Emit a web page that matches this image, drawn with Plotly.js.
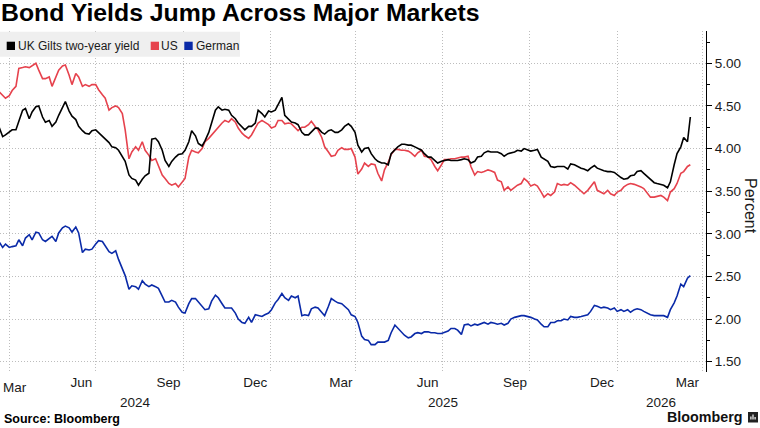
<!DOCTYPE html>
<html>
<head>
<meta charset="utf-8">
<script src="https://cdn.plot.ly/plotly-3.0.1.min.js"></script>
<style>
  html, body { margin: 0; padding: 0; background: #ffffff; }
  #chart { width: 760px; height: 428px; }
</style>
</head>
<body>
<div id="chart"></div>
<script>
// Observation dates (twice weekly, Mon/Thu)
const dates = [
  '2024-03-21','2024-03-25','2024-03-28',
  '2024-04-01','2024-04-04','2024-04-08','2024-04-11','2024-04-15','2024-04-18','2024-04-22','2024-04-25','2024-04-29',
  '2024-05-02','2024-05-06','2024-05-09','2024-05-13','2024-05-16','2024-05-20','2024-05-23','2024-05-27','2024-05-30',
  '2024-06-03','2024-06-06','2024-06-10','2024-06-13','2024-06-17','2024-06-20','2024-06-24','2024-06-27',
  '2024-07-01','2024-07-04','2024-07-08','2024-07-11','2024-07-15','2024-07-18','2024-07-22','2024-07-25','2024-07-29',
  '2024-08-01','2024-08-05','2024-08-08','2024-08-12','2024-08-15','2024-08-19','2024-08-22','2024-08-26','2024-08-29',
  '2024-09-02','2024-09-05','2024-09-09','2024-09-12','2024-09-16','2024-09-19','2024-09-23','2024-09-26','2024-09-30',
  '2024-10-03','2024-10-07','2024-10-10','2024-10-14','2024-10-17','2024-10-21','2024-10-24','2024-10-28','2024-10-31',
  '2024-11-04','2024-11-07','2024-11-11','2024-11-14','2024-11-18','2024-11-21','2024-11-25','2024-11-28',
  '2024-12-02','2024-12-05','2024-12-09','2024-12-12','2024-12-16','2024-12-19','2024-12-23','2024-12-26','2024-12-30',
  '2025-01-02','2025-01-06','2025-01-09','2025-01-13','2025-01-16','2025-01-20','2025-01-23','2025-01-27','2025-01-30',
  '2025-02-03','2025-02-06','2025-02-10','2025-02-13','2025-02-17','2025-02-20','2025-02-24','2025-02-27',
  '2025-03-03','2025-03-06','2025-03-10','2025-03-13','2025-03-17','2025-03-20','2025-03-24','2025-03-27','2025-03-31',
  '2025-04-03','2025-04-07','2025-04-10','2025-04-14','2025-04-17','2025-04-21','2025-04-24','2025-04-28',
  '2025-05-01','2025-05-05','2025-05-08','2025-05-12','2025-05-15','2025-05-19','2025-05-22','2025-05-26','2025-05-29',
  '2025-06-02','2025-06-05','2025-06-09','2025-06-12','2025-06-16','2025-06-19','2025-06-23','2025-06-26','2025-06-30',
  '2025-07-03','2025-07-07','2025-07-10','2025-07-14','2025-07-17','2025-07-21','2025-07-24','2025-07-28','2025-07-31',
  '2025-08-04','2025-08-07','2025-08-11','2025-08-14','2025-08-18','2025-08-21','2025-08-25','2025-08-28',
  '2025-09-01','2025-09-04','2025-09-08','2025-09-11','2025-09-15','2025-09-18','2025-09-22','2025-09-25','2025-09-29',
  '2025-10-02','2025-10-06','2025-10-09','2025-10-13','2025-10-16','2025-10-20','2025-10-23','2025-10-27','2025-10-30',
  '2025-11-03','2025-11-06','2025-11-10','2025-11-13','2025-11-17','2025-11-20','2025-11-24','2025-11-27',
  '2025-12-01','2025-12-04','2025-12-08','2025-12-11','2025-12-15','2025-12-18','2025-12-22','2025-12-25','2025-12-29',
  '2026-01-01','2026-01-05','2026-01-08','2026-01-12','2026-01-15','2026-01-19','2026-01-22','2026-01-26','2026-01-29',
  '2026-02-02','2026-02-05','2026-02-09','2026-02-12','2026-02-16','2026-02-19','2026-02-23','2026-02-26',
  '2026-03-02','2026-03-05','2026-03-09','2026-03-12','2026-03-16','2026-03-19'
];

// UK gilts two-year yield, %
const ukGilts = [
  4.26,4.14,4.16,4.20,4.22,4.22,4.31,4.45,4.47,4.35,
  4.43,4.49,4.50,4.37,4.31,4.33,4.26,4.31,4.39,4.48,
  4.55,4.44,4.38,4.34,4.26,4.21,4.18,4.17,4.21,4.22,
  4.19,4.15,4.12,4.07,4.02,4.01,3.98,3.91,3.85,3.69,
  3.65,3.63,3.57,3.64,3.68,3.71,4.11,4.12,4.08,3.98,
  3.86,3.79,3.85,3.90,3.93,3.94,3.98,4.08,4.21,4.15,
  4.06,4.03,4.09,4.19,4.31,4.45,4.49,4.45,4.46,4.45,
  4.39,4.35,4.30,4.25,4.22,
  4.26,4.26,4.30,4.45,4.41,4.37,4.44,4.43,4.45,4.52,
  4.60,4.39,4.35,4.31,4.30,4.28,4.19,4.16,4.16,4.20,
  4.24,4.24,4.19,4.17,4.21,4.22,4.19,4.19,4.22,4.26,
  4.29,4.26,4.19,4.04,3.96,4.00,4.01,3.94,3.88,3.85,
  3.83,3.83,3.81,3.94,3.99,4.02,4.05,4.05,4.04,4.04,
  4.02,4.00,3.98,3.94,3.90,3.90,3.86,3.83,3.85,3.86,
  3.87,3.86,3.86,3.86,3.87,3.88,3.87,3.83,3.85,3.90,
  3.91,3.95,3.97,3.96,3.96,
  3.96,3.94,3.91,3.94,3.95,3.96,3.98,3.97,4.00,3.98,
  3.97,3.98,3.99,3.90,3.88,3.85,3.79,3.78,3.79,3.79,
  3.79,3.76,3.82,3.81,3.79,3.77,3.76,3.74,3.77,3.80,
  3.77,3.75,3.74,3.73,3.73,3.72,3.69,3.66,3.64,3.65,
  3.68,3.69,3.73,3.74,3.71,3.67,3.63,3.60,3.59,3.58,
  3.57,3.54,3.61,3.81,3.94,4.02,4.13,4.08,4.37
];

// US two-year yield, %
const usYield = [
  4.67,4.63,4.59,4.62,4.68,4.73,4.94,4.95,4.96,4.95,
  4.97,5.00,4.92,4.82,4.82,4.84,4.73,4.84,4.92,4.97,
  4.98,4.86,4.75,4.88,4.84,4.73,4.75,4.73,4.75,4.75,
  4.69,4.63,4.59,4.45,4.48,4.50,4.48,4.41,4.22,3.88,
  3.96,4.02,3.98,4.08,3.98,3.92,3.86,3.88,3.79,3.69,
  3.65,3.59,3.57,3.59,3.55,3.61,3.65,3.90,3.98,3.96,
  3.95,4.00,4.08,4.12,4.16,4.20,4.24,4.30,4.33,4.31,
  4.35,4.31,4.24,4.18,4.15,
  4.12,4.16,4.24,4.30,4.33,4.31,4.28,4.24,4.26,4.33,
  4.33,4.29,4.30,4.29,4.24,4.21,4.25,4.25,4.28,4.32,
  4.26,4.22,4.13,4.02,3.96,3.91,3.92,3.98,4.01,3.99,
  3.99,4.00,3.90,3.70,3.76,3.83,3.79,3.82,3.81,3.71,
  3.62,3.75,3.84,3.93,3.99,3.99,3.98,3.98,3.97,3.95,
  3.91,3.95,3.98,3.91,3.90,3.87,3.79,3.74,3.81,3.87,
  3.87,3.88,3.88,3.89,3.90,3.90,3.91,3.79,3.69,3.73,
  3.72,3.73,3.75,3.74,3.72,
  3.63,3.61,3.51,3.55,3.51,3.55,3.57,3.59,3.65,3.61,
  3.56,3.58,3.56,3.49,3.43,3.47,3.45,3.49,3.59,3.57,
  3.58,3.57,3.60,3.57,3.54,3.49,3.47,3.51,3.55,3.61,
  3.51,3.49,3.47,3.51,3.47,3.45,3.49,3.51,3.55,3.58,
  3.59,3.58,3.57,3.55,3.53,3.47,3.43,3.43,3.44,3.45,
  3.43,3.39,3.49,3.53,3.59,3.71,3.73,3.79,3.81
];

// German two-year yield, %
const germanYield = [
  2.91,2.84,2.88,2.84,2.85,2.86,2.93,2.86,2.95,2.99,
  2.93,3.02,3.01,2.93,2.91,2.95,2.97,2.91,3.01,3.07,
  3.09,3.07,3.02,3.08,3.01,2.78,2.82,2.81,2.82,2.88,
  2.92,2.91,2.86,2.79,2.77,2.80,2.70,2.60,2.51,2.35,
  2.39,2.38,2.35,2.45,2.41,2.38,2.40,2.38,2.36,2.27,
  2.20,2.20,2.22,2.20,2.14,2.08,2.07,2.18,2.24,2.24,
  2.20,2.15,2.11,2.12,2.21,2.28,2.25,2.18,2.13,2.13,
  2.13,2.07,2.00,1.96,1.95,
  2.02,1.96,2.05,2.04,2.03,2.05,2.07,2.11,2.19,2.23,
  2.30,2.25,2.22,2.27,2.25,2.27,2.04,2.05,2.04,2.12,
  2.14,2.13,2.08,2.04,2.15,2.24,2.21,2.19,2.18,2.15,
  2.11,2.05,2.03,1.96,1.80,1.76,1.75,1.70,1.70,1.73,
  1.73,1.73,1.75,1.84,1.93,1.89,1.85,1.81,1.78,1.79,
  1.83,1.84,1.83,1.85,1.85,1.84,1.84,1.83,1.83,1.84,
  1.86,1.89,1.89,1.87,1.82,1.93,1.94,1.92,1.94,1.93,
  1.95,1.96,1.94,1.96,1.95,
  1.94,1.95,1.93,1.95,2.00,2.02,2.03,2.04,2.04,2.03,
  2.02,2.00,1.99,1.94,1.91,1.91,1.96,1.96,1.98,1.98,
  2.00,1.99,2.03,2.02,2.02,2.03,2.04,2.05,2.09,2.16,
  2.15,2.13,2.14,2.13,2.11,2.13,2.09,2.11,2.09,2.11,
  2.08,2.11,2.12,2.11,2.09,2.07,2.05,2.04,2.04,2.04,
  2.04,2.02,2.11,2.19,2.27,2.41,2.38,2.48,2.51
];

// Axis labelling
const monthTickDates = ['2024-06-16','2024-09-15 12:00','2024-12-16','2025-03-16','2025-06-15 12:00','2025-09-15 12:00','2025-12-16','2026-03-16'];
const monthTickText  = ['Jun','Sep','Dec','Mar','Jun','Sep','Dec','Mar'];
const firstMonthLabel = 'Mar';
const quarterGridDates = ['2024-04-01','2024-07-01','2024-10-01','2025-01-01','2025-04-01','2025-07-01','2025-10-01','2026-01-01','2026-04-01'];
const yearLabelDates = ['2024-08-12','2025-07-02','2026-02-16'];
const yearLabels = ['2024','2025','2026'];
const xRange = ['2024-03-22 05:00','2026-04-04 12:00'];

const seriesNames = ['UK Gilts two-year yield','US','German'];
const seriesColors = ['#000000','#e6424d','#0a2aa8'];

// Plot-area geometry in page pixels, used to place the decorations
const W = 760, H = 428;
const P = { left: 0, right: 706, top: 31, bottom: 372 };
const fx = p => (p - P.left) / (P.right - P.left);
const fy = p => (P.bottom - p) / (P.bottom - P.top);

const FONT = 'Liberation Sans, Arial, sans-serif';
const INK = '#1a1a1a';
const GRID = '#bdbdbd';
const GRID_DASH = '1px,2px';

const traces = [
  { x: dates, y: germanYield, name: seriesNames[2], type: 'scatter', mode: 'lines',
    line: { color: seriesColors[2], width: 1.6 }, showlegend: false, hoverinfo: 'skip' },
  { x: dates, y: usYield, name: seriesNames[1], type: 'scatter', mode: 'lines',
    line: { color: seriesColors[1], width: 1.6 }, showlegend: false, hoverinfo: 'skip' },
  { x: dates, y: ukGilts, name: seriesNames[0], type: 'scatter', mode: 'lines',
    line: { color: seriesColors[0], width: 1.6 }, showlegend: false, hoverinfo: 'skip' }
];

// Legend: grey strip, colour swatches and names
const legendItems = [
  { sq: [6.7, 15.0], textX: 16.8 },
  { sq: [150.7, 159.0], textX: 160.2 },
  { sq: [184.3, 192.7], textX: 194.5 }
];

const shapes = [
  { type: 'rect', xref: 'paper', yref: 'paper', layer: 'above',
    x0: fx(0), x1: fx(240), y0: fy(56.7), y1: fy(31.7),
    fillcolor: '#efefef', line: { width: 0 } }
];
legendItems.forEach((it, i) => {
  shapes.push({ type: 'rect', xref: 'paper', yref: 'paper', layer: 'above',
    x0: fx(it.sq[0]), x1: fx(it.sq[1]), y0: fy(50), y1: fy(41.7),
    fillcolor: seriesColors[i], line: { width: 0 } });
});
// Bloomberg mark
shapes.push({ type: 'rect', xref: 'paper', yref: 'paper', x0: fx(748), x1: fx(758), y0: fy(422.5), y1: fy(412),
  fillcolor: '#222222', line: { width: 0 } });
[[750.3, 751.5, 419.5, 416.5], [752.4, 753.6, 419.5, 414.5], [754.5, 755.7, 419.5, 417]].forEach(b => {
  shapes.push({ type: 'rect', xref: 'paper', yref: 'paper', x0: fx(b[0]), x1: fx(b[1]), y0: fy(b[2]), y1: fy(b[3]),
    fillcolor: '#ffffff', line: { width: 0 } });
});

const annotations = [];
legendItems.forEach((it, i) => {
  annotations.push({ xref: 'paper', yref: 'paper', x: fx(it.textX), y: fy(46), xanchor: 'left', yanchor: 'middle',
    text: seriesNames[i], showarrow: false, borderpad: 0, font: { family: FONT, size: 12, color: INK } });
});
annotations.push({ xref: 'paper', yref: 'paper', x: fx(1.5), y: fy(387), xanchor: 'left', yanchor: 'middle',
  text: firstMonthLabel, showarrow: false, borderpad: 0, font: { family: FONT, size: 13.5, color: INK } });
yearLabelDates.forEach((d, i) => {
  annotations.push({ xref: 'x', yref: 'paper', x: d, y: fy(402.5), xanchor: 'center', yanchor: 'middle',
    text: yearLabels[i], showarrow: false, borderpad: 0, font: { family: FONT, size: 13.5, color: INK } });
});
annotations.push({ xref: 'paper', yref: 'paper', x: fx(751), y: fy(206), xanchor: 'center', yanchor: 'middle',
  text: 'Percent', textangle: 90, showarrow: false, font: { family: FONT, size: 16, color: INK } });
annotations.push({ xref: 'paper', yref: 'paper', x: fx(2.5), y: fy(419.5), xanchor: 'left', yanchor: 'middle',
  text: '<b>Source: Bloomberg</b>', showarrow: false, borderpad: 0, font: { family: FONT, size: 12.5, color: '#000' } });
annotations.push({ xref: 'paper', yref: 'paper', x: fx(742.5), y: fy(417.5), xanchor: 'right', yanchor: 'middle',
  text: '<b>Bloomberg</b>', showarrow: false, borderpad: 0, font: { family: FONT, size: 14.3, color: '#111' } });

const layout = {
  width: W, height: H,
  margin: { l: P.left, r: W - P.right, t: P.top, b: H - P.bottom, pad: 0 },
  paper_bgcolor: '#ffffff', plot_bgcolor: '#ffffff',
  showlegend: false,
  title: {
    text: 'Bond Yields Jump Across Major Markets',
    font: { family: FONT, size: 24.8, color: '#000', weight: 'bold' },
    x: 0, xref: 'container', xanchor: 'left',
    y: 1 - 4 / H, yref: 'container', yanchor: 'top', pad: { l: 1, t: 0 }
  },
  xaxis: {
    type: 'date', range: xRange, fixedrange: true,
    tickmode: 'array', tickvals: monthTickDates, ticktext: monthTickText,
    ticks: '', showgrid: false, zeroline: false, showline: false,
    tickfont: { family: FONT, size: 13.5, color: INK },
    minor: { tickmode: 'array', tickvals: quarterGridDates, showgrid: true,
             gridcolor: GRID, griddash: GRID_DASH, gridwidth: 1, ticks: '' }
  },
  yaxis: {
    side: 'right', range: [1.379, 5.379], fixedrange: true,
    tickmode: 'linear', tick0: 0, dtick: 0.5, tickformat: '.2f',
    ticks: 'outside', ticklen: 5, tickwidth: 1, tickcolor: '#000',
    showline: true, linecolor: '#000', linewidth: 1,
    showgrid: true, gridcolor: GRID, griddash: GRID_DASH, gridwidth: 1,
    zeroline: false,
    tickfont: { family: FONT, size: 13.5, color: INK },
    minor: { tick0: 0, dtick: 0.25, ticks: 'outside', ticklen: 3, tickwidth: 1, tickcolor: '#000', showgrid: false }
  },
  shapes: shapes,
  annotations: annotations
};

Plotly.newPlot('chart', traces, layout, { staticPlot: true, displayModeBar: false });
</script>
</body>
</html>
